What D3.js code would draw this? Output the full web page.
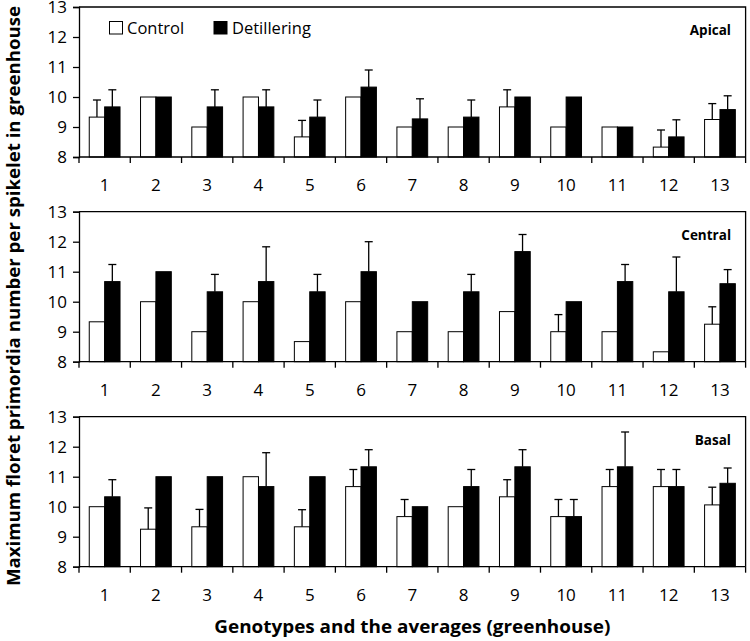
<!DOCTYPE html>
<html>
<head>
<meta charset="utf-8">
<script src="https://cdn.jsdelivr.net/npm/d3@7"></script>
<style>
  body { margin: 0; background: #fff; }
  svg text { font-family: "Open Sans", sans-serif; fill: #000; }
</style>
</head>
<body>
<svg id="chart" width="750" height="641"></svg>
<script>
// genotypes 1-12 plus the average (13)
var categories = ["1", "2", "3", "4", "5", "6", "7", "8", "9", "10", "11", "12", "13"];
var seriesNames = ["Control", "Detillering"];
var yTicks = [8, 9, 10, 11, 12, 13];

// Apical
var apicalControl    = [9.33, 10, 9, 10, 8.67, 10, 9, 9, 9.67, 9, 9, 8.33, 9.25];
var apicalControlErr = [0.57, 0, 0, 0, 0.55, 0, 0, 0, 0.57, 0, 0, 0.57, 0.53];
var apicalDet        = [9.67, 10, 9.67, 9.67, 9.33, 10.33, 9.27, 9.33, 10, 10, 9, 8.67, 9.58];
var apicalDetErr     = [0.57, 0, 0.57, 0.57, 0.57, 0.57, 0.67, 0.57, 0, 0, 0, 0.57, 0.46];

// Central
var centralControl    = [9.33, 10, 9, 10, 8.67, 10, 9, 9, 9.67, 9, 9, 8.33, 9.25];
var centralControlErr = [0, 0, 0, 0, 0, 0, 0, 0, 0, 0.57, 0, 0, 0.58];
var centralDet        = [10.67, 11, 10.33, 10.67, 10.33, 11, 10, 10.33, 11.67, 10, 10.67, 10.33, 10.6];
var centralDetErr     = [0.57, 0, 0.58, 1.16, 0.58, 1.0, 0, 0.58, 0.57, 0, 0.57, 1.16, 0.47];

// Basal
var basalControl    = [10, 9.25, 9.33, 11, 9.33, 10.67, 9.67, 10, 10.33, 9.67, 10.67, 10.67, 10.06];
var basalControlErr = [0, 0.71, 0.58, 0, 0.57, 0.57, 0.57, 0, 0.57, 0.57, 0.57, 0.57, 0.59];
var basalDet        = [10.33, 11, 11, 10.67, 11, 11.33, 10, 10.67, 11.33, 9.67, 11.33, 10.67, 10.78];
var basalDetErr     = [0.57, 0, 0, 1.13, 0, 0.57, 0, 0.57, 0.57, 0.57, 1.16, 0.57, 0.51];

var panels = [
    { name: "Apical",  control: apicalControl,  controlErr: apicalControlErr,  det: apicalDet,  detErr: apicalDetErr },
    { name: "Central", control: centralControl, controlErr: centralControlErr, det: centralDet, detErr: centralDetErr },
    { name: "Basal",   control: basalControl,   controlErr: basalControlErr,   det: basalDet,   detErr: basalDetErr }
];

var svg = d3.select("#chart");
var left = 79, right = 745.6;
var panelTops = [7, 211.7, 416.7];
var panelH = 150;

var x0 = d3.scaleBand().domain(categories).range([left, right])
    .paddingInner(0.4).paddingOuter(0.2);
var x1 = d3.scaleBand().domain(seriesNames).range([0, x0.bandwidth()]);
var step = x0.step();

panels.forEach(function (p, pi) {
    var top = panelTops[pi];
    var y = d3.scaleLinear().domain([8, 13]).range([top + panelH, top]);
    var g = svg.append("g");

    // bars
    categories.forEach(function (c, i) {
        var rows = [
            { s: "Control", v: p.control[i], e: p.controlErr[i], fill: "#fff" },
            { s: "Detillering", v: p.det[i], e: p.detErr[i], fill: "#000" }
        ];
        rows.forEach(function (r) {
            var bx = x0(c) + x1(r.s);
            g.append("rect")
                .attr("x", bx)
                .attr("y", y(r.v))
                .attr("width", x1.bandwidth())
                .attr("height", y(8) - y(r.v))
                .attr("fill", r.fill)
                .attr("stroke", "#000")
                .attr("stroke-width", 1);
            if (r.e > 0) {
                var cx = bx + x1.bandwidth() / 2;
                g.append("line")
                    .attr("x1", cx).attr("x2", cx)
                    .attr("y1", y(r.v)).attr("y2", y(r.v + r.e))
                    .attr("stroke", "#000").attr("stroke-width", 1.3);
                g.append("line")
                    .attr("x1", cx - 4).attr("x2", cx + 4)
                    .attr("y1", y(r.v + r.e)).attr("y2", y(r.v + r.e))
                    .attr("stroke", "#000").attr("stroke-width", 1.3);
            }
        });
    });

    // frame: top and right
    g.append("path")
        .attr("d", "M" + left + "," + top + "H" + right + "V" + (top + panelH))
        .attr("fill", "none").attr("stroke", "#000").attr("stroke-width", 1.3);

    // y axis
    var yAxis = d3.axisLeft(y).tickValues(yTicks).tickFormat(d3.format("d")).tickSize(6).tickPadding(6);
    var ga = g.append("g").attr("transform", "translate(" + left + ",0)").call(yAxis);
    ga.select(".domain").attr("stroke-width", 1.3);
    ga.selectAll(".tick line").attr("stroke-width", 1.3);
    ga.selectAll("text").style("font-size", "17px").attr("fill", "#000");

    // x axis: ticks at group boundaries
    var xb = g.append("g");
    xb.append("line")
        .attr("x1", left).attr("x2", right)
        .attr("y1", y(8)).attr("y2", y(8))
        .attr("stroke", "#000").attr("stroke-width", 1.3);
    var bounds = categories.map(function (c) { return x0(c) - step * 0.2; }).concat([right]);
    bounds.forEach(function (bx) {
        xb.append("line")
            .attr("x1", bx).attr("x2", bx)
            .attr("y1", y(8)).attr("y2", y(8) + 6)
            .attr("stroke", "#000").attr("stroke-width", 1.3);
    });
    categories.forEach(function (c) {
        xb.append("text")
            .attr("x", x0(c) + x0.bandwidth() / 2)
            .attr("y", y(8) + 34)
            .attr("text-anchor", "middle")
            .style("font-size", "17px")
            .text(c);
    });

    // panel name
    g.append("text")
        .attr("x", 731)
        .attr("y", top + 28)
        .attr("text-anchor", "end")
        .style("font-size", "13.5px")
        .style("font-weight", "bold")
        .text(p.name);
});

// legend
var legend = svg.append("g");
[{ s: "Control", fill: "#fff", x: 109.5, tx: 127 }, { s: "Detillering", fill: "#000", x: 214, tx: 232 }]
    .forEach(function (d) {
        legend.append("rect")
            .attr("x", d.x).attr("y", 21.5)
            .attr("width", 13).attr("height", 12.5)
            .attr("fill", d.fill).attr("stroke", "#000").attr("stroke-width", 1);
        legend.append("text")
            .attr("x", d.tx).attr("y", 34)
            .style("font-size", "16.5px")
            .text(d.s);
    });

// axis titles
svg.append("text")
    .attr("transform", "translate(20," + 296 + ") rotate(-90)")
    .attr("text-anchor", "middle")
    .attr("textLength", 580)
    .attr("lengthAdjust", "spacingAndGlyphs")
    .style("font-size", "18px")
    .style("font-weight", "bold")
    .text("Maximum floret primordia number per spikelet in greenhouse");

svg.append("text")
    .attr("x", (left + right) / 2)
    .attr("y", 633)
    .attr("text-anchor", "middle")
    .attr("textLength", 396)
    .attr("lengthAdjust", "spacingAndGlyphs")
    .style("font-size", "18.5px")
    .style("font-weight", "bold")
    .text("Genotypes and the averages (greenhouse)");
</script>
</body>
</html>
